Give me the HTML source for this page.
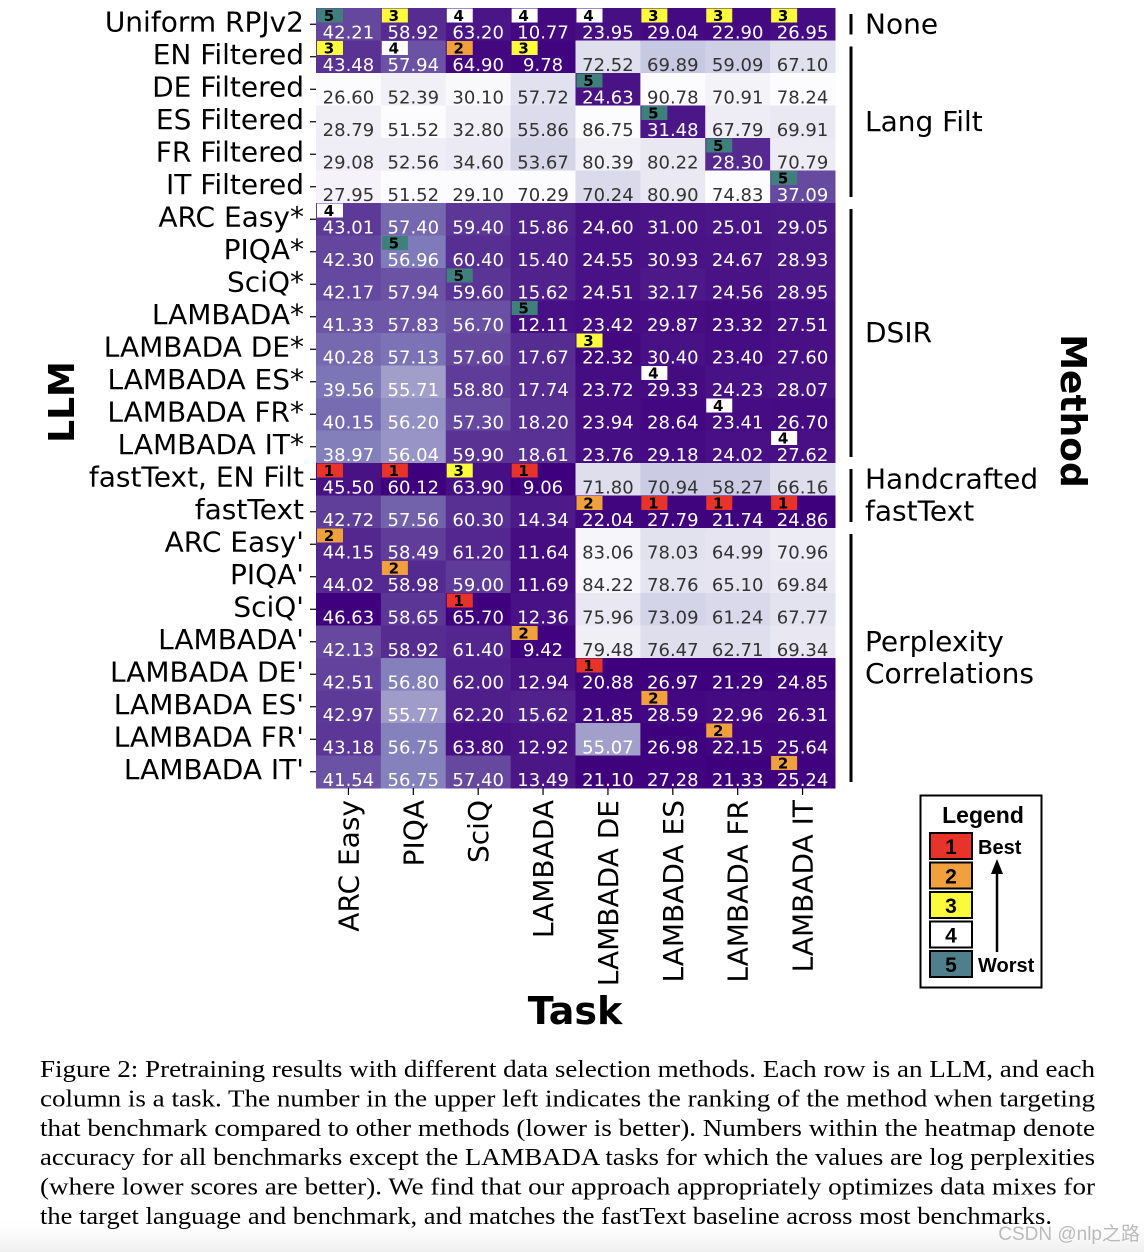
<!DOCTYPE html>
<html><head><meta charset="utf-8"><style>
html,body{margin:0;padding:0;background:#fff;width:1144px;height:1252px;overflow:hidden}
svg{display:block}
</style></head><body>
<svg id="chart" width="1144" height="1252" viewBox="0 0 1144 1252" xmlns="http://www.w3.org/2000/svg" font-family="'DejaVu Sans','Liberation Sans',sans-serif">
<defs><linearGradient id="fade" x1="0" y1="0" x2="0" y2="1"><stop offset="0" stop-color="#fff" stop-opacity="0"/><stop offset="1" stop-color="#eee"/></linearGradient></defs>
<rect x="0" y="1215" width="1144" height="37" fill="url(#fade)"/>
<g id="heat"></g>
<g id="ylabels"></g>
<g id="xlabels"></g>
<g id="groups"></g>
<text transform="translate(74,402) rotate(-90)" text-anchor="middle" font-size="36" font-weight="bold">LLM</text>
<text x="575" y="1024" text-anchor="middle" font-size="38" font-weight="bold">Task</text>
<text transform="translate(1061,411) rotate(90)" text-anchor="middle" font-size="36" font-weight="bold">Method</text>
<g id="legend">
<rect x="920.5" y="795.5" width="121" height="192" fill="#fff" stroke="#000" stroke-width="2"/>
<text x="983" y="823" text-anchor="middle" font-size="23" font-weight="bold" font-family="'Liberation Sans',sans-serif">Legend</text>
</g>
<g id="caption" font-family="'Liberation Serif',serif" font-size="24"></g>
<text x="1140" y="1240" text-anchor="end" font-size="19" fill="#bbb" font-family="'Liberation Sans','Noto Sans CJK SC',sans-serif">CSDN @nlp之路</text>
</svg>
<script>
const rowLabels=["Uniform RPJv2","EN Filtered","DE Filtered","ES Filtered","FR Filtered","IT Filtered","ARC Easy*","PIQA*","SciQ*","LAMBADA*","LAMBADA DE*","LAMBADA ES*","LAMBADA FR*","LAMBADA IT*","fastText, EN Filt","fastText","ARC Easy'","PIQA'","SciQ'","LAMBADA'","LAMBADA DE'","LAMBADA ES'","LAMBADA FR'","LAMBADA IT'"];
const colLabels=["ARC Easy","PIQA","SciQ","LAMBADA","LAMBADA DE","LAMBADA ES","LAMBADA FR","LAMBADA IT"];
const higherBetter=[true,true,true,false,false,false,false,false];
const values=[
[42.21,58.92,63.20,10.77,23.95,29.04,22.90,26.95],
[43.48,57.94,64.90,9.78,72.52,69.89,59.09,67.10],
[26.60,52.39,30.10,57.72,24.63,90.78,70.91,78.24],
[28.79,51.52,32.80,55.86,86.75,31.48,67.79,69.91],
[29.08,52.56,34.60,53.67,80.39,80.22,28.30,70.79],
[27.95,51.52,29.10,70.29,70.24,80.90,74.83,37.09],
[43.01,57.40,59.40,15.86,24.60,31.00,25.01,29.05],
[42.30,56.96,60.40,15.40,24.55,30.93,24.67,28.93],
[42.17,57.94,59.60,15.62,24.51,32.17,24.56,28.95],
[41.33,57.83,56.70,12.11,23.42,29.87,23.32,27.51],
[40.28,57.13,57.60,17.67,22.32,30.40,23.40,27.60],
[39.56,55.71,58.80,17.74,23.72,29.33,24.23,28.07],
[40.15,56.20,57.30,18.20,23.94,28.64,23.41,26.70],
[38.97,56.04,59.90,18.61,23.76,29.18,24.02,27.62],
[45.50,60.12,63.90,9.06,71.80,70.94,58.27,66.16],
[42.72,57.56,60.30,14.34,22.04,27.79,21.74,24.86],
[44.15,58.49,61.20,11.64,83.06,78.03,64.99,70.96],
[44.02,58.98,59.00,11.69,84.22,78.76,65.10,69.84],
[46.63,58.65,65.70,12.36,75.96,73.09,61.24,67.77],
[42.13,58.92,61.40,9.42,79.48,76.47,62.71,69.34],
[42.51,56.80,62.00,12.94,20.88,26.97,21.29,24.85],
[42.97,55.77,62.20,15.62,21.85,28.59,22.96,26.31],
[43.18,56.75,63.80,12.92,55.07,26.98,22.15,25.64],
[41.54,56.75,57.40,13.49,21.10,27.28,21.33,25.24]];
const ranks=[
[5,3,4,4,4,3,3,3],[3,4,2,3,0,0,0,0],[0,0,0,0,5,0,0,0],[0,0,0,0,0,5,0,0],[0,0,0,0,0,0,5,0],[0,0,0,0,0,0,0,5],
[4,0,0,0,0,0,0,0],[0,5,0,0,0,0,0,0],[0,0,5,0,0,0,0,0],[0,0,0,5,0,0,0,0],[0,0,0,0,3,0,0,0],[0,0,0,0,0,4,0,0],[0,0,0,0,0,0,4,0],[0,0,0,0,0,0,0,4],
[1,1,3,1,0,0,0,0],[0,0,0,0,2,1,1,1],
[2,0,0,0,0,0,0,0],[0,2,0,0,0,0,0,0],[0,0,1,0,0,0,0,0],[0,0,0,2,0,0,0,0],[0,0,0,0,1,0,0,0],[0,0,0,0,0,2,0,0],[0,0,0,0,0,0,2,0],[0,0,0,0,0,0,0,2]];
const groupNames=[["None"],["Lang Filt"],["DSIR"],["Handcrafted","fastText"],["Perplexity","Correlations"]];
const groupStart=[0,1,6,14,16];
const groupEnd=[0,5,13,15,23];
const rankColors=["","#e8332a","#f0a03c","#fbfb3c","#ffffff","#3f7f7c"];
const legendColors=["","#e8332a","#f0a03c","#fbfb3c","#ffffff","#4f7f8a"];

const NS="http://www.w3.org/2000/svg";
const X0=316,X1=835,Y0=8,Y1=788;
const cw=(X1-X0)/colLabels.length, rh=(Y1-Y0)/rowLabels.length;
const xPos=i=>X0+i*cw, yPos=r=>Y0+r*rh;
function el(tag,attrs,parent,txt){const e=document.createElementNS(NS,tag);for(const k in attrs)e.setAttribute(k,attrs[k]);if(txt!==undefined)e.textContent=txt;parent.appendChild(e);return e;}
const stops=["#fcfbfd","#efedf5","#dadaeb","#bcbddc","#9e9ac8","#807dba","#6a51a3","#54278f","#3f007d"];
function hex(h){return[1,3,5].map(i=>parseInt(h.substr(i,2),16));}
function cmap(t){t=Math.max(0,Math.min(1,t));const p=t*(stops.length-1),i=Math.min(stops.length-2,Math.floor(p)),f=p-i;const a=hex(stops[i]),b=hex(stops[i+1]);return "rgb("+a.map((v,k)=>Math.round(v+(b[k]-v)*f)).join(",")+")";}

const heat=document.getElementById('heat');
for(let c=0;c<colLabels.length;c++){
  const col=values.map(r=>r[c]);const mn=Math.min(...col),mx=Math.max(...col);
  for(let r=0;r<rowLabels.length;r++){
    const v=values[r][c];let t=(v-mn)/(mx-mn);if(!higherBetter[c])t=1-t;
    const rect=el('rect',{x:xPos(c),y:yPos(r),width:cw+0.5,height:rh+0.5,fill:cmap(t)},heat);
    
    
    const tx=el('text',{x:xPos(c)+cw/2,y:yPos(r)+rh-2,'text-anchor':'middle','font-size':18,fill:t>0.45?'#fff':'#333'},heat,v.toFixed(2));
    
    
    const rk=ranks[r][c];
    if(rk){
      const b=el('rect',{x:xPos(c)+1,y:yPos(r)+0.5,width:26,height:14,fill:rankColors[rk]},heat);
      
      
      const bt=el('text',{x:xPos(c)+13,y:yPos(r)+13,'text-anchor':'middle','font-size':15,'font-weight':'bold',fill:'#000'},heat,String(rk));
      
      
    }
  }
}
const yl=document.getElementById('ylabels');
rowLabels.forEach((l,r)=>{
  const y=yPos(r)+rh/2;
  el('line',{x1:310,x2:316,y1:y,y2:y,stroke:'#000','stroke-width':1.2},yl);
  const t=el('text',{x:304,y:y+7,'text-anchor':'end','font-size':28},yl,l);
  
  
});
const xl=document.getElementById('xlabels');
colLabels.forEach((l,c)=>{
  const x=xPos(c)+cw/2;
  el('line',{x1:x,x2:x,y1:788,y2:795,stroke:'#000','stroke-width':1.2},xl);
  const t=el('text',{transform:`translate(${x+10},800) rotate(-90)`,'text-anchor':'end','font-size':28},xl,l);
  
  
});
const gg=document.getElementById('groups');
groupNames.forEach((g,i)=>{
  const ya=yPos(groupStart[i])+6, yb=yPos(groupEnd[i]+1)-6;
  const ln=el('line',{x1:851,x2:851,y1:ya,y2:yb,stroke:'#000','stroke-width':3},gg);
  
  
  const mid=(ya+yb)/2;
  g.forEach((s,k)=>{
    const t=el('text',{x:865,y:mid+9+(k-(g.length-1)/2)*32,'font-size':28},gg,s);
    
    
  });
});
const lg=document.getElementById('legend');
for(let k=1;k<=5;k++){
  const y=833+(k-1)*29.5;
  const s=el('rect',{x:930,y:y,width:42,height:26,fill:legendColors[k],stroke:'#000','stroke-width':2},lg);
  
  
  el('text',{x:951,y:y+21,'text-anchor':'middle','font-size':21,'font-weight':'bold','font-family':"'Liberation Sans',sans-serif"},lg,String(k));
}
el('text',{x:978,y:854,'font-size':20,'font-weight':'bold','font-family':"'Liberation Sans',sans-serif"},lg,'Best');
el('text',{x:978,y:972,'font-size':20,'font-weight':'bold','font-family':"'Liberation Sans',sans-serif"},lg,'Worst');
el('line',{x1:997,x2:997,y1:952,y2:872,stroke:'#000','stroke-width':2.5},lg);
el('polygon',{points:'991,874 1003,874 997,859',fill:'#000'},lg);
const cap=["Figure 2: Pretraining results with different data selection methods. Each row is an LLM, and each","column is a task. The number in the upper left indicates the ranking of the method when targeting","that benchmark compared to other methods (lower is better). Numbers within the heatmap denote","accuracy for all benchmarks except the LAMBADA tasks for which the values are log perplexities","(where lower scores are better). We find that our approach appropriately optimizes data mixes for","the target language and benchmark, and matches the fastText baseline across most benchmarks."];
const cg=document.getElementById('caption');
cap.forEach((l,i)=>{
  const a={x:40,y:1077+i*29.4};
  if(i<cap.length-1){a.textLength=1055;a.lengthAdjust='spacingAndGlyphs';} else {a.textLength=1012;a.lengthAdjust='spacingAndGlyphs';}
  el('text',a,cg,l);
});
</script>
</body></html>
